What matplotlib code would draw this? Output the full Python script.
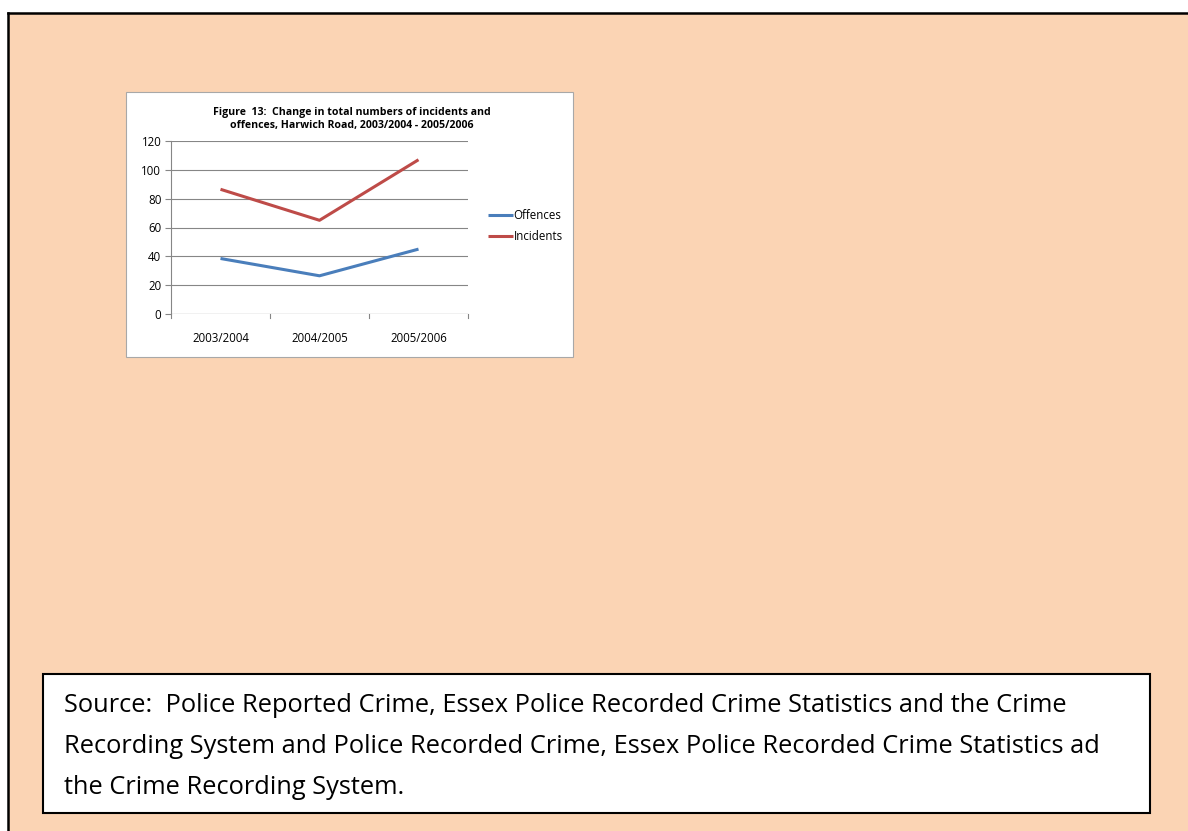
import matplotlib.pyplot as plt
from matplotlib.patches import Rectangle
from matplotlib.lines import Line2D

# Data
years = ['2003/2004', '2004/2005', '2005/2006']
offences = [38.5, 26.5, 45]
incidents = [86.5, 65, 107]
yticks = [0, 20, 40, 60, 80, 100, 120]

title = 'Figure  13:  Change in total numbers of incidents and\noffences, Harwich Road, 2003/2004 - 2005/2006'
source_lines = [
    'Source:  Police Reported Crime, Essex Police Recorded Crime Statistics and the Crime',
    'Recording System and Police Recorded Crime, Essex Police Recorded Crime Statistics ad',
    'the Crime Recording System.',
]

W, H = 1188, 831
PEACH = '#fbd4b4'
BLUE = '#4a7ebb'
RED = '#be4b48'
GRID = '#868686'
FONT = ['Open Sans', 'DejaVu Sans']


def fx(px):
    return px / W


def fy(py):
    return 1 - py / H


fig = plt.figure(figsize=(W / 100, H / 100), dpi=100)
fig.patch.set_facecolor('white')

# peach page background with black border on left and top
fig.add_artist(Rectangle((fx(8), 0), 1, fy(13), transform=fig.transFigure,
                         facecolor=PEACH, edgecolor='none', zorder=0))
fig.add_artist(Line2D([fx(8), fx(8)], [0, fy(13)], transform=fig.transFigure,
                      color='black', lw=1.8, zorder=1))
fig.add_artist(Line2D([fx(8), 1], [fy(13), fy(13)], transform=fig.transFigure,
                      color='black', lw=1.8, zorder=1))

# chart box
fig.add_artist(Rectangle((fx(126), fy(357)), fx(573 - 126), (357 - 92) / H,
                         transform=fig.transFigure, facecolor='white',
                         edgecolor='#a8a8a8', lw=0.8, zorder=1))

# source box
fig.add_artist(Rectangle((fx(43), fy(813)), fx(1150 - 43), (813 - 674) / H,
                         transform=fig.transFigure, facecolor='white',
                         edgecolor='black', lw=1.5, zorder=1))
for i, line in enumerate(source_lines):
    fig.text(fx(64), fy(712 + 41 * i), line, ha='left', va='baseline',
             fontsize=18.3, family=FONT, color='black', zorder=2)

# line chart
ax = fig.add_axes([fx(171), fy(314), fx(468 - 171), (314 - 141) / H], zorder=3)
ax.set_facecolor('none')
x = range(len(years))
ax.plot(x, offences, color=BLUE, lw=2.2, label='Offences', solid_capstyle='butt')
ax.plot(x, incidents, color=RED, lw=2.2, label='Incidents', solid_capstyle='butt')

ax.set_xlim(-0.5, len(years) - 0.5)
ax.set_ylim(0, 120)
ax.set_yticks(yticks)
ax.set_yticklabels([str(t) for t in yticks], fontsize=8.3, family=FONT)
ax.set_xticks(list(x))
ax.set_xticklabels(years, fontsize=8.3, family=FONT)
ax.tick_params(axis='x', length=0, pad=13)
ax.tick_params(axis='y', length=4, direction='out', color=GRID, pad=3)
for b in [-0.5, 0.5, 1.5, 2.5]:
    ax.plot([b, b], [0, -3], color=GRID, lw=0.8, clip_on=False)
ax.grid(axis='y', color=GRID, lw=0.8)
ax.set_axisbelow(True)
for s in ['top', 'right', 'bottom']:
    ax.spines[s].set_visible(False)
ax.spines['left'].set_color(GRID)
ax.spines['left'].set_linewidth(0.8)
ax.axhline(0, color=GRID, lw=0.8, zorder=0)

fig.text(fx(352), fy(119), title, ha='center', va='center', fontsize=7.6,
         fontweight='bold', family=FONT, linespacing=1.25, zorder=4)

ax.legend(loc='center left', bbox_to_anchor=(fx(478), fy(226)),
          bbox_transform=fig.transFigure, frameon=False,
          prop={'family': FONT, 'size': 8.3}, handlelength=2.1, handletextpad=0.1,
          labelspacing=0.75)

fig.savefig('out.png', dpi=100)
